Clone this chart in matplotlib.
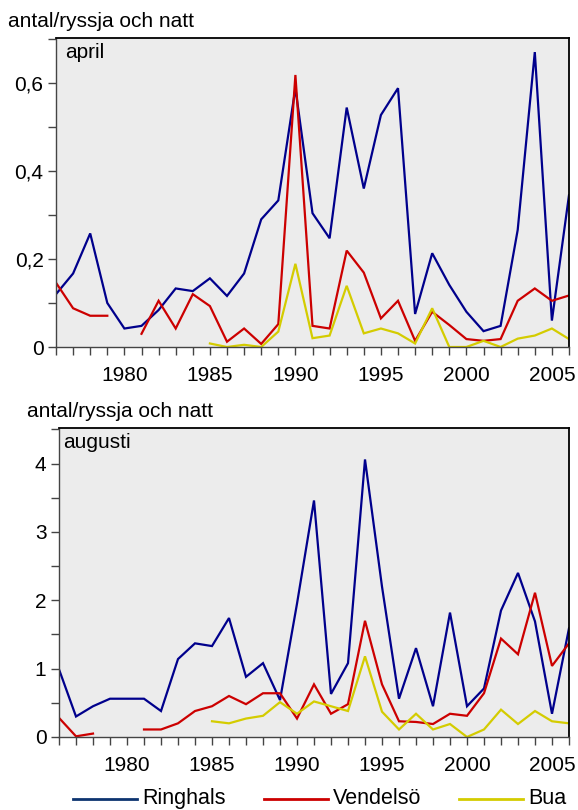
import numpy as np
import matplotlib
matplotlib.use("Agg")
import matplotlib.pyplot as plt
from matplotlib.ticker import MultipleLocator, FuncFormatter
from matplotlib.lines import Line2D

plt.rcParams['font.family'] = ['Liberation Sans', 'DejaVu Sans']

years = np.arange(1976, 2007)
nan = np.nan

# April catches (antal/ryssja och natt)
ringhals_apr = [0.12, 0.167, 0.258, 0.10, 0.042, 0.048, 0.084, 0.133, 0.127, 0.156,
                0.116, 0.167, 0.29, 0.333, 0.588, 0.304, 0.247, 0.544, 0.36, 0.527,
                0.588, 0.075, 0.213, 0.141, 0.08, 0.036, 0.048, 0.266, 0.67, 0.06, 0.345]
vendelso_apr = [0.146, 0.088, 0.071, 0.071, nan, 0.03, 0.105, 0.042, 0.12, 0.093,
                0.012, 0.042, 0.007, 0.052, 0.618, 0.048, 0.042, 0.219, 0.169, 0.065,
                0.105, 0.014, 0.08, 0.05, 0.018, 0.014, 0.018, 0.105, 0.133, 0.105, 0.117]
bua_apr = [nan, nan, nan, nan, nan, nan, nan, nan, nan, 0.008,
           0.0, 0.005, 0.0, 0.035, 0.189, 0.02, 0.026, 0.139, 0.031, 0.042,
           0.031, 0.008, 0.088, 0.0, 0.0, 0.014, 0.0, 0.019, 0.026, 0.042, 0.018]

# August catches
ringhals_aug = [0.99, 0.30, 0.45, 0.56, 0.56, 0.56, 0.38, 1.14, 1.37, 1.33,
                1.74, 0.88, 1.08, 0.54, 1.95, 3.46, 0.63, 1.08, 4.06, 2.2,
                0.56, 1.30, 0.45, 1.82, 0.45, 0.71, 1.85, 2.40, 1.69, 0.34, 1.59]
vendelso_aug = [0.28, 0.01, 0.05, nan, nan, 0.11, 0.11, 0.20, 0.38, 0.45,
                0.60, 0.48, 0.64, 0.64, 0.27, 0.77, 0.34, 0.48, 1.70, 0.77,
                0.23, 0.22, 0.19, 0.34, 0.31, 0.64, 1.44, 1.21, 2.11, 1.04, 1.37]
bua_aug = [nan, nan, nan, nan, nan, nan, nan, nan, nan, 0.23,
           0.20, 0.27, 0.31, 0.51, 0.34, 0.52, 0.45, 0.38, 1.18, 0.37,
           0.11, 0.34, 0.11, 0.19, 0.0, 0.11, 0.40, 0.19, 0.38, 0.23, 0.20]

series_names = ["Ringhals", "Vendelsö", "Bua"]
line_colors = ["#00008c", "#cc0000", "#d4cc00"]
legend_colors = ["#0d3470", "#cc0000", "#d4cc00"]

W, H = 578, 810
fig = plt.figure(figsize=(W / 100, H / 100), dpi=100)


def px_axes(left, top, right, bottom):
    return fig.add_axes([left / W, 1 - bottom / H, (right - left) / W, (bottom - top) / H])


def comma_fmt(v, pos):
    if abs(v) < 1e-9:
        return "0"
    s = f"{v:g}"
    return s.replace(".", ",")


def style_axes(ax, ymax, ymajor, yminor):
    ax.set_facecolor("#ececec")
    ax.set_xlim(1976, 2006)
    ax.set_ylim(0, ymax)
    ax.xaxis.set_major_locator(MultipleLocator(5))
    ax.xaxis.set_minor_locator(MultipleLocator(1))
    ax.yaxis.set_major_locator(MultipleLocator(ymajor))
    ax.yaxis.set_minor_locator(MultipleLocator(yminor))
    ax.yaxis.set_major_formatter(FuncFormatter(comma_fmt))
    ax.xaxis.set_major_formatter(FuncFormatter(lambda v, p: f"{int(round(v))}"))
    ax.tick_params(axis="both", which="both", direction="out", length=6,
                   width=1.0, color="#444444", labelsize=15, pad=3)
    ax.tick_params(axis="x", which="major", pad=8)
    for side in ("top", "right"):
        ax.spines[side].set_color("black")
        ax.spines[side].set_linewidth(1.3)
    for side in ("left", "bottom"):
        ax.spines[side].set_color("#444444")
        ax.spines[side].set_linewidth(1.0)


ax1 = px_axes(56, 38, 569, 347)
ax2 = px_axes(59, 428, 569, 737)

for ax, data in ((ax1, (ringhals_apr, vendelso_apr, bua_apr)),
                 (ax2, (ringhals_aug, vendelso_aug, bua_aug))):
    for vals, col in zip(data, line_colors):
        ax.plot(years, vals, color=col, lw=1.6, solid_joinstyle="miter")

style_axes(ax1, 0.702, 0.2, 0.1)
style_axes(ax2, 4.52, 1, 0.5)

ax1.text(0.018, 0.985, "april", transform=ax1.transAxes, ha="left", va="top", fontsize=15)
ax2.text(0.008, 0.985, "augusti", transform=ax2.transAxes, ha="left", va="top", fontsize=15)

fig.text(8 / W, 1 - 27 / H, "antal/ryssja och natt", ha="left", va="baseline", fontsize=15)
fig.text(27 / W, 1 - 417 / H, "antal/ryssja och natt", ha="left", va="baseline", fontsize=15)

# Legend drawn along the bottom of the figure
legend_y = 1 - 799 / H
line_spans = [(73, 137), (264, 328), (459, 523)]
for (x0, x1), col, name in zip(line_spans, legend_colors, series_names):
    fig.add_artist(Line2D([x0 / W, x1 / W], [legend_y, legend_y], color=col, lw=2.0,
                          transform=fig.transFigure))
    fig.text((x1 + 5) / W, 1 - 804 / H, name, ha="left", va="baseline", fontsize=15.5)

fig.savefig("out.png", dpi=100)
